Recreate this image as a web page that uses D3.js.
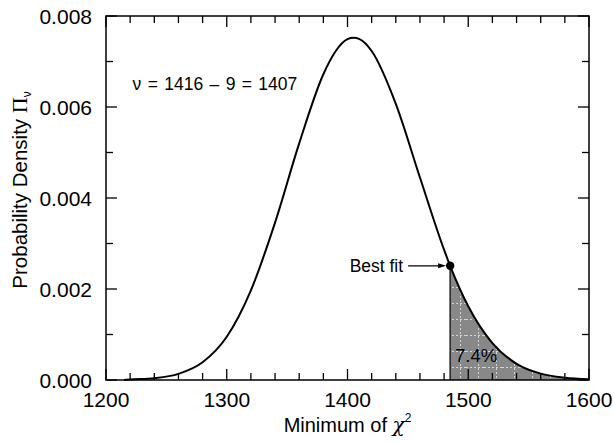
<!DOCTYPE html>
<html>
<head>
<meta charset="utf-8">
<script src="https://cdn.jsdelivr.net/npm/d3@7/dist/d3.min.js"></script>
<style>
  html, body { margin: 0; padding: 0; background: #fff; }
  svg { display: block; font-family: "Liberation Sans", Arial, Helvetica, sans-serif; }
</style>
</head>
<body>
<svg id="chart" width="614" height="443"></svg>
<script>
// chi^2 values
const chiValues = [1215, 1220, 1240, 1260, 1280, 1300, 1320, 1340, 1360, 1380, 1390, 1400, 1405, 1410, 1420, 1440, 1460, 1480, 1485, 1500, 1520, 1540, 1560, 1580, 1600];
const densityValues = [0, 0.00001, 0.00004, 0.000135, 0.00039, 0.00095, 0.00197, 0.00346, 0.0052, 0.00672, 0.00722, 0.00749, 0.00752, 0.00749, 0.00723, 0.00607, 0.00445, 0.00286, 0.00251, 0.00162, 0.00081, 0.000356, 0.00014, 0.00005, 0.000015];

const xTickLabels = [1200, 1300, 1400, 1500, 1600];
const yTickLabels = [0.000, 0.002, 0.004, 0.006, 0.008];
const bestFit = { chi: 1485, density: 0.00251 };
const tailPercent = "7.4%";
const nuLabel = "\u03BD = 1416 \u2013 9 = 1407";

const width = 614;
const height = 443;
const margin = { top: 16, right: 25, bottom: 63, left: 106 };
const plotW = width - margin.left - margin.right;
const plotH = height - margin.top - margin.bottom;

const svg = d3.select("#chart");
const g = svg.append("g").attr("transform", `translate(${margin.left},${margin.top})`);

const x = d3.scaleLinear().domain([1200, 1600]).range([0, plotW]);
const y = d3.scaleLinear().domain([0, 0.008]).range([plotH, 0]);

const points = chiValues.map((c, i) => ({ chi: c, density: densityValues[i] }));
const tail = points.filter((d) => d.chi >= bestFit.chi);

// texture for the shaded tail
const defs = svg.append("defs");
const pat = defs.append("pattern")
  .attr("id", "tailFill")
  .attr("patternUnits", "userSpaceOnUse")
  .attr("width", 18)
  .attr("height", 16);
pat.append("rect").attr("width", 18).attr("height", 16).attr("fill", "#888");
pat.append("line").attr("x1", 0).attr("y1", 15.5).attr("x2", 18).attr("y2", 15.5)
  .attr("stroke", "#e8e8e8").attr("stroke-width", 0.8).attr("stroke-dasharray", "2,2");
pat.append("line").attr("x1", 12.5).attr("y1", 0).attr("x2", 12.5).attr("y2", 16)
  .attr("stroke", "#e8e8e8").attr("stroke-width", 0.8).attr("stroke-dasharray", "2,2");

const area = d3.area()
  .x((d) => x(d.chi))
  .y0(y(0))
  .y1((d) => y(d.density))
  .curve(d3.curveMonotoneX);

g.append("path")
  .datum(tail)
  .attr("d", area)
  .attr("fill", "url(#tailFill)");

g.append("line")
  .attr("x1", x(bestFit.chi)).attr("x2", x(bestFit.chi))
  .attr("y1", y(bestFit.density)).attr("y2", y(0))
  .attr("stroke", "#222").attr("stroke-width", 1.5);

const line = d3.line()
  .x((d) => x(d.chi))
  .y((d) => y(d.density))
  .curve(d3.curveMonotoneX);

g.append("path")
  .datum(points)
  .attr("d", line)
  .attr("fill", "none")
  .attr("stroke", "#000")
  .attr("stroke-width", 2);

// frame
g.append("rect")
  .attr("width", plotW).attr("height", plotH)
  .attr("fill", "none").attr("stroke", "#000").attr("stroke-width", 1.5);

// inward ticks on all four sides
const xTicks = d3.range(1200, 1601, 20);
const yTicks = d3.range(0, 0.00801, 0.001);
const tickLen = (major) => (major ? 11 : 7);

xTicks.forEach((v) => {
  const major = v % 100 === 0;
  g.append("line").attr("x1", x(v)).attr("x2", x(v))
    .attr("y1", plotH).attr("y2", plotH - tickLen(major)).attr("stroke", "#000").attr("stroke-width", 1.3);
  g.append("line").attr("x1", x(v)).attr("x2", x(v))
    .attr("y1", 0).attr("y2", tickLen(major)).attr("stroke", "#000").attr("stroke-width", 1.3);
});
yTicks.forEach((v, i) => {
  const major = i % 2 === 0;
  g.append("line").attr("x1", 0).attr("x2", tickLen(major))
    .attr("y1", y(v)).attr("y2", y(v)).attr("stroke", "#000").attr("stroke-width", 1.3);
  g.append("line").attr("x1", plotW).attr("x2", plotW - tickLen(major))
    .attr("y1", y(v)).attr("y2", y(v)).attr("stroke", "#000").attr("stroke-width", 1.3);
});

// tick labels
g.selectAll(".xlab").data(xTickLabels).join("text")
  .attr("x", (d) => x(d))
  .attr("y", plotH + 27)
  .attr("text-anchor", "middle")
  .attr("font-size", 21)
  .text((d) => d);

g.selectAll(".ylab").data(yTickLabels).join("text")
  .attr("x", -14)
  .attr("y", (d) => y(d))
  .attr("dy", "0.36em")
  .attr("text-anchor", "end")
  .attr("font-size", 21)
  .text((d) => d3.format(".3f")(d));

// axis titles
const xt = svg.append("text")
  .attr("x", margin.left + plotW / 2)
  .attr("y", 432)
  .attr("text-anchor", "middle")
  .attr("font-size", 20);
xt.append("tspan").text("Minimum of ");
xt.append("tspan").attr("font-family", "'DejaVu Serif', 'Liberation Serif', serif").attr("font-style", "italic").text("\u03C7");
xt.append("tspan").attr("font-size", 12).attr("dy", -10).text("2");

const yt = svg.append("text")
  .attr("transform", `translate(27,${margin.top + plotH / 2 - 8}) rotate(-90)`)
  .attr("text-anchor", "middle")
  .attr("font-size", 20.5);
yt.append("tspan").text("Probability Density ");
yt.append("tspan").attr("font-family", "'Liberation Serif', 'Times New Roman', serif").attr("font-size", 22).text("\u03A0");
yt.append("tspan").attr("font-size", 12).attr("dy", 4).text("\u03BD");

// annotations
g.append("text")
  .attr("x", x(1222))
  .attr("y", y(0.00637))
  .attr("font-size", 17.5)
  .attr("word-spacing", 1.5)
  .text(nuLabel);

const bx = x(bestFit.chi);
const by = y(bestFit.density);
g.append("text")
  .attr("x", bx - 47)
  .attr("y", by + 6)
  .attr("text-anchor", "end")
  .attr("font-size", 17.5)
  .text("Best fit");
g.append("line")
  .attr("x1", bx - 42).attr("x2", bx - 10)
  .attr("y1", by).attr("y2", by)
  .attr("stroke", "#000").attr("stroke-width", 1.2);
g.append("path")
  .attr("d", `M${bx - 4},${by} L${bx - 12},${by - 2.5} L${bx - 12},${by + 2.5} Z`)
  .attr("fill", "#000");
g.append("circle")
  .attr("cx", bx).attr("cy", by).attr("r", 4.2)
  .attr("fill", "#000");

g.append("text")
  .attr("x", x(1489))
  .attr("y", y(0.0004))
  .attr("font-size", 18.5)
  .text(tailPercent);
</script>
</body>
</html>
